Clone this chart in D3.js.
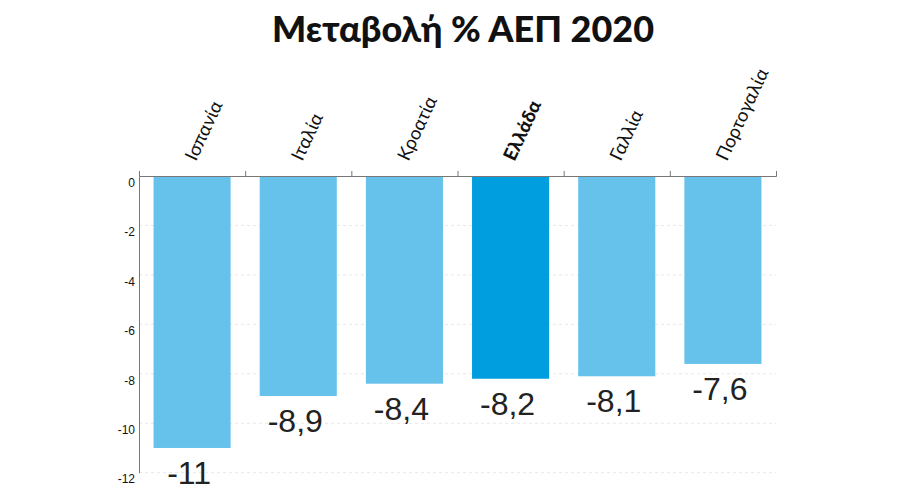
<!DOCTYPE html>
<html><head><meta charset="utf-8">
<script src="https://cdn.jsdelivr.net/npm/d3@7"></script>
<style>body{margin:0;background:#fff}svg{display:block}</style>
</head><body>
<svg id="c" width="900" height="500"></svg>
<script>
const categories = ["Ισπανία","Ιταλία","Κροατία","Ελλάδα","Γαλλία","Πορτογαλία"];
const values = [-11, -8.9, -8.4, -8.2, -8.1, -7.6];
const valueLabels = ["-11","-8,9","-8,4","-8,2","-8,1","-7,6"];
const highlight = ["Ελλάδα"];
const yTicks = [0,-2,-4,-6,-8,-10,-12];
const title = "Μεταβολή % ΑΕΠ 2020";

(function(){
const svg = d3.select("#c");
const pL = 139, pR = 776, pT = 176, pB = 472.7;
const x = d3.scaleBand().domain(categories).range([pL, pR]).paddingInner(0.274).paddingOuter(0.137);
const y = d3.scaleLinear().domain([0, -12]).range([pT, pB]);

svg.append("text").attr("x", 463).attr("y", 42).attr("text-anchor","middle")
  .attr("font-family","Lato, 'Noto Sans', sans-serif").attr("font-weight","900")
  .attr("font-size", 36).attr("fill","#111").text(title);

// gridlines
svg.append("g").selectAll("line").data(yTicks.slice(1)).join("line")
  .attr("x1", pL).attr("x2", pR).attr("y1", d=>y(d)).attr("y2", d=>y(d))
  .attr("stroke","#e8e8e8").attr("stroke-dasharray","3,3");

// bars
svg.append("g").selectAll("rect").data(categories).join("rect")
  .attr("x", d=>x(d)).attr("width", x.bandwidth())
  .attr("y", y(0)).attr("height", (d,i)=>y(values[i]) - y(0))
  .attr("fill", d=> highlight.includes(d) ? "#009ddf" : "#66c2ea");

// y axis
const yAxis = d3.axisLeft(y).tickValues(yTicks).tickSize(0).tickPadding(4).tickFormat(d => String(d));
const gy = svg.append("g").attr("transform",`translate(${pL},0)`).call(yAxis);
gy.select(".domain").attr("stroke","#777");
gy.selectAll("text").attr("font-family","'Liberation Sans', Arial, sans-serif")
  .attr("font-size", 12).attr("fill","#111").attr("dy","0.85em");

// x axis top
const step = x.step();
const boundaries = d3.range(categories.length + 1).map(i => x(categories[0]) - x.paddingOuter()*step + i*step);
const xAxis = d3.axisTop(d3.scaleLinear().domain([pL, pR]).range([pL, pR]))
  .tickValues(boundaries.slice(1)).tickSize(5).tickFormat("");
const gx = svg.append("g").attr("transform",`translate(0,${pT})`).call(xAxis);
gx.select(".domain").attr("stroke","#777");
gx.selectAll(".tick line").attr("stroke","#777");

// category labels
svg.append("g").selectAll("text").data(categories).join("text")
  .attr("transform", d=>`translate(${x(d)+x.bandwidth()/2 + 4},162) rotate(-65)`)
  .attr("font-family","Lato, 'Noto Sans', sans-serif")
  .attr("font-weight", d=> highlight.includes(d) ? "900" : "400")
  .attr("font-size", 18.5).attr("fill","#111").text(d=>d);

// value labels
svg.append("g").selectAll("text").data(categories).join("text")
  .attr("x", d=>x(d)+x.bandwidth()/2 - 3)
  .attr("y", (d,i)=>y(values[i]) + 36)
  .attr("text-anchor","middle")
  .attr("font-family","'Liberation Sans', Arial, sans-serif")
  .attr("font-size", 32).attr("fill","#222").text((d,i)=>valueLabels[i]);
})();
</script>
</body></html>
